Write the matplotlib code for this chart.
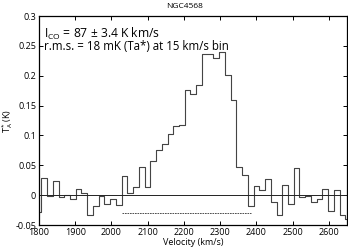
import numpy as np
import matplotlib
matplotlib.use("Agg")
import matplotlib.pyplot as plt

plt.rcParams['font.family'] = ['Open Sans', 'DejaVu Sans']
plt.rcParams['mathtext.fontset'] = 'custom'
plt.rcParams['mathtext.rm'] = 'Open Sans'
plt.rcParams['mathtext.it'] = 'Open Sans:italic'

# channel centres (km/s), 15.8 km/s spacing
v_start = 1798.5
v_step = 15.83
n_chan = 55
velocity = v_start + v_step * np.arange(n_chan)

# antenna temperature per channel (K)
ta = [-0.029, 0.029, -0.002, 0.023, -0.003, 0.001, -0.007, 0.010, 0.003, -0.034,
      -0.018, -0.001, -0.014, -0.006, -0.016, 0.032, 0.004, 0.014, 0.047, 0.014,
      0.058, 0.076, 0.085, 0.103, 0.116, 0.118, 0.176, 0.170, 0.185, 0.237,
      0.237, 0.229, 0.239, 0.202, 0.160, 0.047, 0.034, -0.018, 0.016, 0.008,
      0.027, -0.012, -0.034, 0.017, -0.015, 0.045, -0.003, -0.001, -0.012, -0.006,
      0.011, -0.026, 0.009, -0.034, -0.040]

# velocity range of the line (dashed bar under the profile)
line_range = [2029, 2384]
line_bar_y = -0.030

fig = plt.figure(figsize=(3.48, 2.49), dpi=100)
ax = fig.add_axes([39/348, 1-225/249, 308/348, 209/249])

ax.step(velocity, ta, where='mid', color='#444444', lw=0.8)
ax.axhline(0, color='#222222', lw=0.7)
ax.plot(line_range, [line_bar_y, line_bar_y], color='#333333', lw=0.6,
        ls=(0, (2, 1)))

ax.set_xlim(1800, 2650)
ax.set_ylim(-0.05, 0.3)
ax.set_xticks([1800, 1900, 2000, 2100, 2200, 2300, 2400, 2500, 2600])
ax.set_yticks([-0.05, 0, 0.05, 0.1, 0.15, 0.2, 0.25, 0.3])
ax.set_yticklabels(['-0.05', '0', '0.05', '0.1', '0.15', '0.2', '0.25', '0.3'])
ax.tick_params(direction='in', top=True, right=True, length=3, width=0.7,
               labelsize=6.5, pad=2)
for s in ax.spines.values():
    s.set_linewidth(0.9)

ax.set_xlabel('Velocity (km/s)', fontsize=6.5, labelpad=1)
ax.set_ylabel(r'T$_{\rm A}^{*}$ (K)', fontsize=6.5)
ax.yaxis.set_label_coords(-24/308, 0.5)

ax.text(0.016, 0.955, r'I$_{\rm CO}$ = 87 ± 3.4 K km/s', transform=ax.transAxes,
        fontsize=8.7, va='top', ha='left')
ax.text(0.016, 0.885, 'r.m.s. = 18 mK (Ta*) at 15 km/s bin', transform=ax.transAxes,
        fontsize=8.3, va='top', ha='left')

fig.text(185/348, 1-6/249, 'NGC4568', fontsize=6, ha='center', va='center')

fig.savefig('out.png', dpi=100)
